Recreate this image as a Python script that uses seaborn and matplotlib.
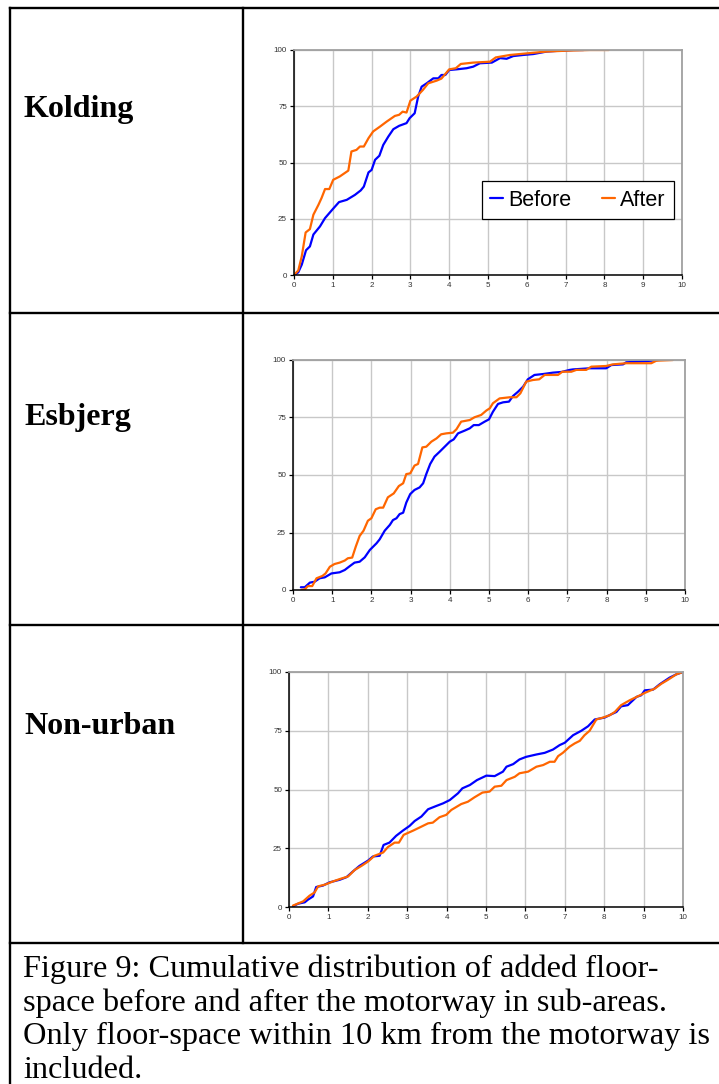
import matplotlib
matplotlib.use("Agg")
import matplotlib.pyplot as plt
from matplotlib.lines import Line2D
import pandas as pd
import seaborn as sns

# ---- cumulative share of added floor-space (%) against distance to motorway (km) ----
kolding_before_km = [0, 0.11, 0.2, 0.31, 0.41, 0.5, 0.67, 0.8, 1.0, 1.16, 1.36, 1.57, 1.72, 1.8, 1.92,
                     2.0, 2.09, 2.2, 2.3, 2.43, 2.56, 2.71, 2.9, 2.98, 3.11, 3.2, 3.29, 3.42, 3.59,
                     3.72, 3.8, 3.9, 4.0, 4.19, 4.45, 4.62, 4.79, 5.1, 5.31, 5.48, 5.65, 5.91, 6.17,
                     6.51, 6.86, 7.2, 7.46]
kolding_before_pct = [0, 1.2, 4.6, 11, 12.7, 18, 21.6, 25.3, 29.3, 32.4, 33.4, 35.6, 37.6, 39.3, 45.6,
                      46.7, 51.2, 53, 57.8, 61.5, 64.8, 66.3, 67.5, 69.7, 71.9, 79.3, 83.7, 85.2, 87.4,
                      87.4, 88.9, 88.9, 91.1, 91.4, 91.9, 92.6, 94.1, 94.4, 96.4, 96.1, 97.3, 97.8, 98.2,
                      99.3, 99.7, 100, 100]
kolding_after_km = [0, 0.11, 0.2, 0.3, 0.41, 0.5, 0.63, 0.71, 0.8, 0.91, 1.01, 1.18, 1.4, 1.48, 1.61,
                    1.7, 1.8, 1.92, 2.04, 2.22, 2.39, 2.6, 2.71, 2.8, 2.9, 3.0, 3.16, 3.32, 3.46, 3.68,
                    3.8, 4.0, 4.17, 4.3, 4.62, 5.05, 5.2, 5.57, 6.0, 6.51, 7.03, 7.63, 8.11]
kolding_after_pct = [0, 2, 8.3, 18.9, 20.4, 26.8, 31.2, 34.2, 38.2, 38.2, 42.3, 43.8, 46.4, 54.9, 55.6,
                     57.1, 57.1, 60.8, 63.8, 66, 68.2, 70.7, 71.2, 72.6, 72.2, 77.5, 79.3, 82.2, 85.2, 86.4,
                     87.3, 91.4, 91.9, 93.8, 94.4, 94.8, 96.7, 97.8, 98.5, 99.3, 99.7, 100, 100]

esbjerg_before_km = [0.2, 0.3, 0.43, 0.55, 0.68, 0.81, 0.98, 1.19, 1.32, 1.45, 1.57, 1.7, 1.83, 1.96,
                     2.13, 2.21, 2.34, 2.47, 2.55, 2.64, 2.72, 2.81, 2.89, 2.99, 3.1, 3.23, 3.32, 3.4,
                     3.5, 3.61, 3.74, 3.87, 4.0, 4.1, 4.21, 4.38, 4.51, 4.61, 4.74, 4.89, 5.0, 5.1,
                     5.23, 5.36, 5.51, 5.61, 5.74, 5.87, 5.99, 6.16, 6.38, 6.63, 6.85, 7.06, 7.14,
                     7.57, 7.99, 8.12, 8.42, 8.5, 8.84, 9.14, 9.31]
esbjerg_before_pct = [1.2, 1.2, 3.2, 3.6, 5.1, 5.5, 7.2, 7.7, 8.7, 10.4, 11.9, 12.3, 14.2, 17.4,
                      20.3, 22, 25.8, 28.3, 30.4, 31.2, 33, 33.6, 38, 41.7, 43.5, 44.6, 46.4, 50.4,
                      54.8, 58, 60.1, 62.3, 64.5, 65.5, 68.1, 69.3, 70.3, 71.7, 71.7, 73.2, 74.2, 77.5,
                      80.9, 81.6, 81.9, 84.3, 86.2, 88.4, 91.6, 93.5, 93.9, 94.5, 94.8, 95.7, 95.9,
                      96.4, 96.4, 97.8, 98.1, 99, 99.3, 99.7, 100]
esbjerg_after_km = [0.21, 0.3, 0.38, 0.49, 0.6, 0.75, 0.83, 0.94, 1.06, 1.19, 1.32, 1.4, 1.51, 1.6,
                    1.7, 1.8, 1.91, 2.0, 2.11, 2.21, 2.3, 2.42, 2.57, 2.7, 2.81, 2.89, 2.99, 3.1, 3.19,
                    3.3, 3.4, 3.53, 3.66, 3.78, 3.91, 4.08, 4.17, 4.29, 4.51, 4.63, 4.8, 4.93, 5.02,
                    5.1, 5.27, 5.53, 5.7, 5.8, 5.95, 6.12, 6.28, 6.42, 6.76, 6.87, 7.1, 7.23, 7.48,
                    7.61, 7.99, 8.16, 8.5, 9.14, 9.27, 9.69]
esbjerg_after_pct = [0, 0.3, 1.7, 1.7, 5.1, 6.1, 7.2, 10.1, 11.3, 11.9, 12.8, 13.8, 14.1, 18.8,
                     23.5, 25.8, 30.1, 31.2, 35.1, 35.8, 35.8, 40.3, 42, 45.2, 46.4, 50.4, 50.7, 54.1, 54.8,
                     62, 62.3, 64.5, 65.9, 67.7, 68.1, 68.4, 69.9, 73.2, 73.9, 75.1, 76.1, 78, 79,
                     81.2, 83.3, 83.8, 83.8, 85.5, 90.6, 91.3, 91.6, 93.5, 93.5, 94.9, 94.9, 95.7, 95.7,
                     97.1, 97.4, 98.1, 98.6, 98.6, 99.7, 100]

nonurban_before_km = [0.1, 0.23, 0.4, 0.48, 0.61, 0.69, 0.86, 1.03, 1.29, 1.46, 1.62, 1.79, 2.01, 2.13,
                      2.3, 2.4, 2.55, 2.72, 2.89, 3.06, 3.19, 3.36, 3.53, 3.74, 3.91, 4.08, 4.29, 4.4,
                      4.59, 4.77, 5.01, 5.22, 5.43, 5.52, 5.69, 5.85, 6.02, 6.28, 6.49, 6.7, 6.87, 7.0,
                      7.21, 7.42, 7.59, 7.76, 8.01, 8.18, 8.31, 8.43, 8.6, 8.82, 8.94, 9.03, 9.24, 9.41,
                      9.66, 9.83, 10]
nonurban_before_pct = [0.3, 1.4, 2, 3.1, 4.5, 8.5, 9.1, 10.5, 11.6, 12.7, 15.1, 17.5, 19.8, 21.5,
                       21.8, 26.4, 27.4, 30.3, 32.5, 34.5, 36.6, 38.5, 41.6, 43, 44.1, 45.5, 48.4, 50.5,
                       51.9, 54, 55.9, 55.7, 57.6, 59.7, 60.8, 62.8, 63.9, 64.9, 65.6, 67, 68.9, 69.9,
                       73.1, 75, 76.9, 79.8, 80.6, 82, 83, 85.4, 85.9, 89.4, 90.1, 92.2, 92.5, 94.8,
                       97.6, 99, 100]
nonurban_after_km = [0.1, 0.36, 0.52, 0.65, 0.74, 0.91, 1.12, 1.29, 1.5, 1.67, 1.84, 2.01, 2.17, 2.39,
                     2.51, 2.68, 2.79, 2.91, 3.15, 3.36, 3.53, 3.65, 3.82, 3.99, 4.12, 4.37, 4.54, 4.71,
                     4.91, 5.09, 5.22, 5.39, 5.52, 5.73, 5.85, 6.07, 6.28, 6.45, 6.62, 6.74, 6.83, 6.95,
                     7.12, 7.25, 7.38, 7.5, 7.63, 7.8, 7.97, 8.14, 8.27, 8.43, 8.65, 8.86, 9.03, 9.28,
                     9.45, 9.62, 9.83, 10]
nonurban_after_pct = [0.6, 2.4, 4.8, 6.2, 8.8, 9.5, 10.9, 11.9, 13, 15.8, 17.5, 19.4, 21.8, 23.2,
                      25.5, 27.4, 27.4, 30.7, 32.5, 34.2, 35.6, 35.9, 38.2, 39.2, 41.3, 43.8, 44.8, 46.7,
                      48.7, 49.1, 51.2, 51.6, 54, 55.4, 56.9, 57.6, 59.7, 60.4, 61.8, 61.8, 64.2, 65.6,
                      68.2, 69.6, 70.7, 73.1, 75, 79.8, 80.6, 81.6, 83, 85.9, 88, 89.7, 91.1, 92.9,
                      95, 96.7, 99, 100]

area_names = ["Kolding", "Esbjerg", "Non-urban"]
period_names = ["Before", "After"]
x_ticks = [0, 1, 2, 3, 4, 5, 6, 7, 8, 9, 10]
y_ticks = [0, 25, 50, 75, 100]
caption_lines = ["Figure 9: Cumulative distribution of added floor-",
                 "space before and after the motorway in sub-areas.",
                 "Only floor-space within 10 km from the motorway is",
                 "included."]

series = {
    "Kolding": [(kolding_before_km, kolding_before_pct), (kolding_after_km, kolding_after_pct)],
    "Esbjerg": [(esbjerg_before_km, esbjerg_before_pct), (esbjerg_after_km, esbjerg_after_pct)],
    "Non-urban": [(nonurban_before_km, nonurban_before_pct), (nonurban_after_km, nonurban_after_pct)],
}

sns.set_style("white")
plt.rcParams["font.family"] = ["Liberation Sans", "DejaVu Sans"]
plt.rcParams["text.color"] = "black"

W, H = 719, 1084
fig = plt.figure(figsize=(W / 100, H / 100), dpi=100)


def rect(left, top, right, bottom):
    return [left / W, 1 - bottom / H, (right - left) / W, (bottom - top) / H]


def hline(y, x0, x1):
    fig.add_artist(Line2D([x0 / W, x1 / W], [1 - y / H, 1 - y / H], color="black", lw=1.7,
                          solid_capstyle="projecting"))


def vline(x, y0, y1):
    fig.add_artist(Line2D([x / W, x / W], [1 - y0 / H, 1 - y1 / H], color="black", lw=1.7,
                          solid_capstyle="projecting"))


# table frame
for y in (8, 313, 625, 943):
    hline(y, 10, W + 5)
vline(10, 8, H + 5)
vline(243, 8, 943)

axes_boxes = [rect(294, 50, 682, 275), rect(293, 360, 685, 590), rect(289, 672, 683, 907)]
label_y = [110, 417, 727]
palette = {"Before": "#0000ff", "After": "#ff6600"}

for name, box, ly in zip(area_names, axes_boxes, label_y):
    ax = fig.add_axes(box)
    frames = []
    for period, (km, pct) in zip(period_names, series[name]):
        frames.append(pd.DataFrame({"km": km, "pct": pct, "period": period}))
    df = pd.concat(frames, ignore_index=True)
    sns.lineplot(data=df, x="km", y="pct", hue="period", hue_order=period_names, palette=palette,
                 estimator=None, sort=False, lw=1.6, ax=ax, legend=(name == "Kolding"))

    ax.set_xlim(0, 10)
    ax.set_ylim(0, 100)
    ax.set_xticks(x_ticks)
    ax.set_yticks(y_ticks)
    ax.set_xlabel("")
    ax.set_ylabel("")
    ax.grid(True, color="#c8c8c8", lw=1.0)
    ax.set_axisbelow(True)
    for side in ("top", "right"):
        ax.spines[side].set_color("#a0a0a0")
        ax.spines[side].set_linewidth(1.3)
    for side in ("left", "bottom"):
        ax.spines[side].set_color("black")
        ax.spines[side].set_linewidth(1.1)
    ax.tick_params(axis="both", which="both", direction="out", length=3, width=0.9, color="black",
                   labelsize=5.8, labelcolor="#333333", pad=2, left=True, bottom=True)

    if name == "Kolding":
        leg = ax.legend(loc="center", bbox_to_anchor=(0.732, 0.333), ncol=2, frameon=True,
                        fancybox=False, framealpha=1, edgecolor="black", fontsize=15.5,
                        handlelength=0.6, handletextpad=0.25, columnspacing=1.4,
                        borderpad=0.4, borderaxespad=0)
        leg.get_frame().set_linewidth(0.9)
        for h in leg.get_lines():
            h.set_linewidth(1.6)
        for t in leg.get_texts():
            t.set_color("black")

    fig.text(24 / W, 1 - ly / H, name, ha="left", va="center", fontsize=23, fontweight="bold",
             color="black", family=["Liberation Serif", "DejaVu Serif"])

for i, line in enumerate(caption_lines):
    fig.text(23 / W, 1 - (977 + 33.5 * i) / H, line, ha="left", va="baseline", fontsize=23.3,
             color="black", family=["Liberation Serif", "DejaVu Serif"])

fig.savefig("out.png", dpi=100)
